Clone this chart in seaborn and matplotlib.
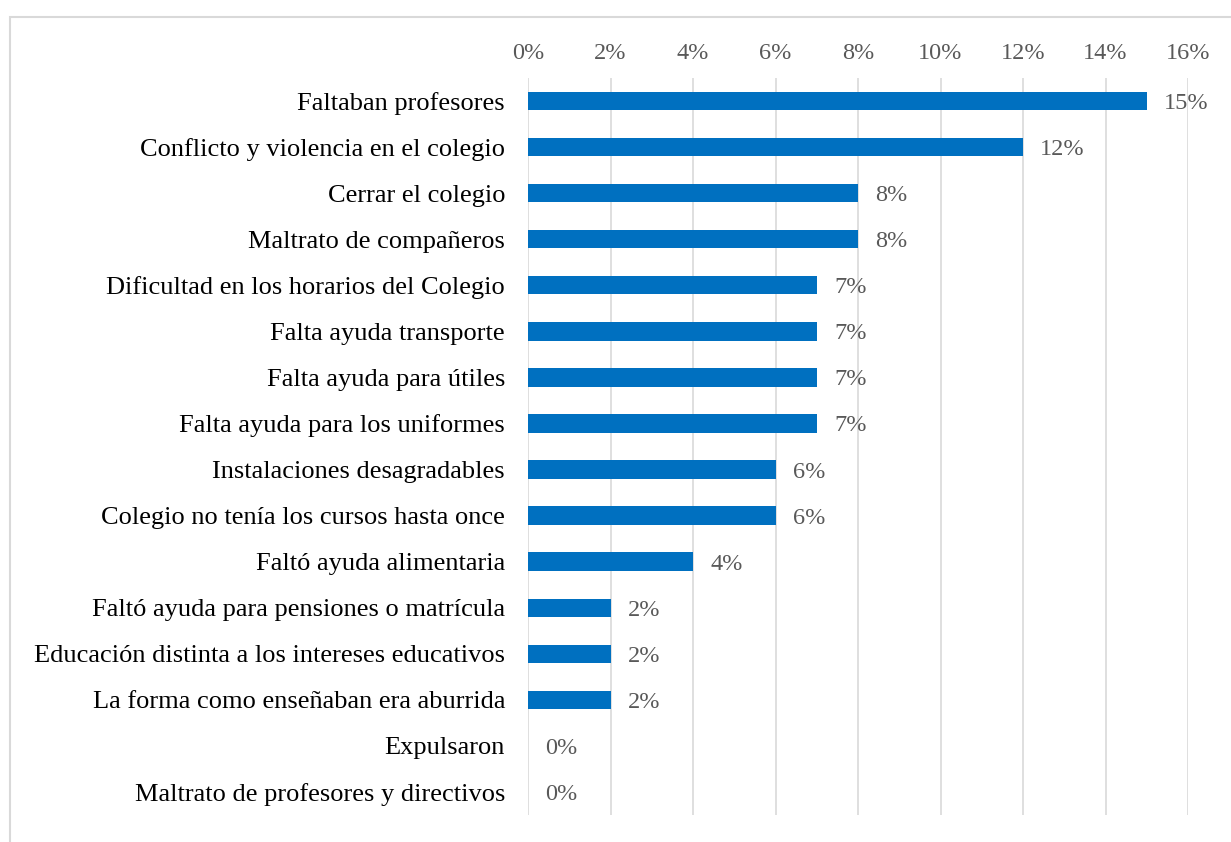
import matplotlib
matplotlib.use('Agg')
import matplotlib.pyplot as plt
import seaborn as sns
import pandas as pd
from matplotlib.patches import Rectangle

# Data
categories = [
    'Faltaban profesores',
    'Conflicto y violencia en el colegio',
    'Cerrar el colegio',
    'Maltrato de compañeros',
    'Dificultad en los horarios del Colegio',
    'Falta ayuda transporte',
    'Falta ayuda para útiles',
    'Falta ayuda para los uniformes',
    'Instalaciones desagradables',
    'Colegio no tenía los cursos hasta once',
    'Faltó ayuda alimentaria',
    'Faltó ayuda para pensiones o matrícula',
    'Educación distinta a los intereses educativos',
    'La forma como enseñaban era aburrida',
    'Expulsaron',
    'Maltrato de profesores y directivos',
]
values = [15, 12, 8, 8, 7, 7, 7, 7, 6, 6, 4, 2, 2, 2, 0, 0]
xticks = [0, 2, 4, 6, 8, 10, 12, 14, 16]

df = pd.DataFrame({'motivo': categories, 'pct': values})

sns.set_style('white')
plt.rcParams['font.family'] = ['Liberation Serif', 'DejaVu Serif']

fig = plt.figure(figsize=(12.31, 8.42), dpi=100)
ax = fig.add_axes([528 / 1231, 1 - 815 / 842, 660 / 1231, 737 / 842])

sns.barplot(data=df, x='pct', y='motivo', color='#0070C0', width=0.4,
            saturation=1, linewidth=0, ax=ax, orient='h')

ax.set_xlim(0, 16)
ax.set_xticks(xticks)
ax.set_xticklabels([f'{t}%' for t in xticks])
ax.xaxis.tick_top()
ax.tick_params(axis='x', length=0, pad=10, labelsize=17.5, colors='#595959')
ax.tick_params(axis='y', length=0, pad=16.5, labelsize=19, colors='black')
ax.set_xlabel('')
ax.set_ylabel('')
ax.grid(axis='x', color='#D9D9D9', linewidth=1.2)
ax.set_axisbelow(True)
for s in ax.spines.values():
    s.set_visible(False)

# Data labels
for i, v in enumerate(values):
    ax.text(v + 0.42, i, f'{v}%', va='center_baseline', ha='left',
            fontsize=17.5, color='#595959')

# Chart border (partly cropped)
fig.patches.append(Rectangle((10 / 1231, -0.1), 1.2, 1 - 17 / 842 + 0.1,
                             transform=fig.transFigure, fill=False,
                             edgecolor='#D9D9D9', linewidth=1.5))

plt.savefig('out.png', dpi=100)
